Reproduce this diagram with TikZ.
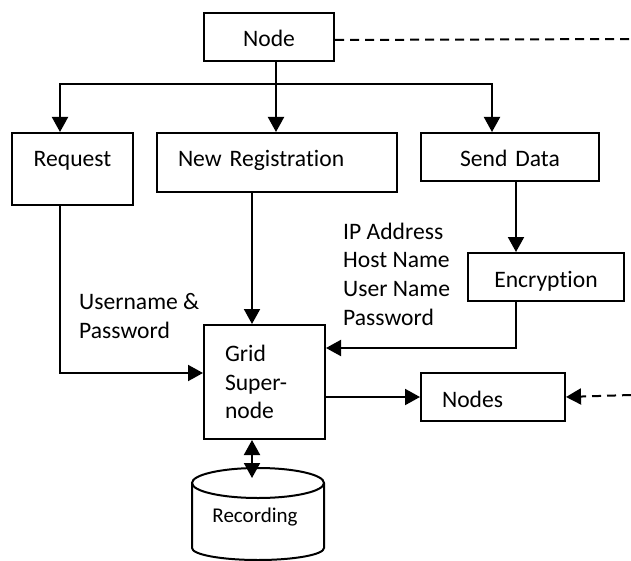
\documentclass[tikz,border=0pt]{standalone}
\usepackage{fontspec}
\setmainfont{Carlito}[Ligatures=NoCommon]
\usepackage{tikz}
\usetikzlibrary{arrows.meta}
\tikzset{
	boxstyle/.style={rectangle,draw=black,line width=2pt,inner ysep=0pt,anchor=north west},
	midstyle/.style={boxstyle,align=center,inner xsep=0pt},
	leftstyle/.style={boxstyle,align=left,inner xsep=21pt},
	textstyle/.style={align=left,inner sep=0pt,anchor=west},
	linkstyle/.style={line width=2pt,-{Triangle[width=16pt,length=15pt]}},
	bothstyle/.style={line width=2pt,{Triangle[width=16pt,length=15pt]}-{Triangle[width=16pt,length=15pt]}},
	dashstyle/.style={line width=2pt,dash pattern=on 9pt off 6pt}
}

\begin{document}
\begin{tikzpicture}[x=1pt,y=-1pt]
	\fontsize{23.6}{28.7}\selectfont
	\useasboundingbox (0,0) rectangle (631,561);
	\node[midstyle,text width=130pt,text height=34pt,text depth=14pt] (nd) at (203,12) {Node};
	\node[midstyle,text width=121pt,text height=34pt,text depth=38pt] (req) at (11,132) {Request};
	\node[leftstyle,text width=198pt,text height=34pt,text depth=25pt] (reg) at (156,132) {New Registration};
	\node[midstyle,text width=178pt,text height=34pt,text depth=14pt] (snd) at (420,132) {Send Data};
	\node[midstyle,text width=156pt,text height=34pt,text depth=14pt] (enc) at (467,252) {Encryption};
	\node[leftstyle,text width=79pt,minimum height=114pt] (grid) at (203,324) {Grid\\Super-\\node};
	\node[leftstyle,text width=102pt,text height=34pt,text depth=14pt] (nds) at (420,372) {Nodes};
	\node[textstyle] (info) at (343,274) {IP Address\\Host Name\\User Name\\Password};
	\node[textstyle] (login) at (79,316) {Username \&\\Password};
	% recording store
	\draw[line width=2pt] (258,483) ellipse [x radius=66, y radius=15];
	\draw[line width=2pt] (192,483) -- (192,548) arc [start angle=180, end angle=0, x radius=66, y radius=12] -- (324,483);
	\node[inner sep=0pt,font=\fontsize{21}{25}\selectfont] (rec) at (255,517) {Recording};
	\coordinate (split) at (276,84);
	\coordinate (leftbr) at (60,84);
	\coordinate (rightbr) at (492,84);
	\coordinate (encdown) at (516,348);
	\coordinate (recin) at (252,478);
	\draw[line width=2pt] (split |- nd.south) -- (split);
	\draw[linkstyle] (split) -- (leftbr) -- (leftbr |- req.north);
	\draw[linkstyle] (split) -- (rightbr) -- (rightbr |- snd.north);
	\draw[linkstyle] (split) -- (split |- reg.north);
	\draw[linkstyle] (req.south -| leftbr) |- ([yshift=9pt]grid.west);
	\draw[linkstyle] (reg.south -| recin) -- (grid.north -| recin);
	\draw[linkstyle] (snd.south -| encdown) -- (enc.north -| encdown);
	\draw[linkstyle] (enc.south -| encdown) -- (encdown) -- (encdown -| grid.east);
	\draw[linkstyle] (grid.east |- nds.west) -- (nds.west);
	\draw[bothstyle] (grid.south -| recin) -- (recin);
	\draw[dashstyle] ([yshift=-3pt]nd.east) -- (631,39);
	\draw[dashstyle,-{Triangle[width=16pt,length=15pt]}] (631,395) -- (nds.east);
\end{tikzpicture}
\end{document}
